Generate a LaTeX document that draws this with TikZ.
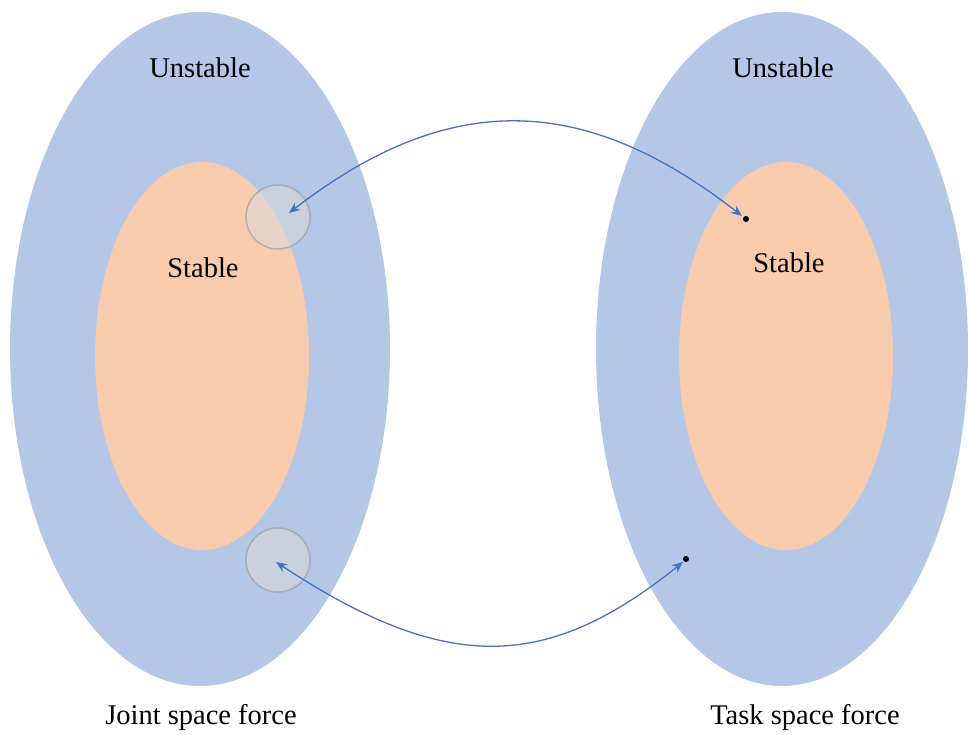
\documentclass[tikz,border=0pt]{standalone}
\usepackage{fontspec}
\setmainfont{Liberation Serif}
\usetikzlibrary{arrows.meta}
\definecolor{blueE}{HTML}{B4C7E7}
\definecolor{orangeE}{HTML}{F8CBAD}
\definecolor{arrowC}{HTML}{4472C4}
\definecolor{probeC}{HTML}{D9D9D9}
\tikzset{
  outer/.style={fill=blueE, draw=none},
  inner/.style={fill=orangeE, draw=none},
  probe/.style={circle, minimum size=64pt, inner sep=0pt, fill=probeC, fill opacity=0.6, draw=gray!80, draw opacity=0.6, line width=1.5pt},
  dotn/.style={circle, fill=black, inner sep=0pt, minimum size=6pt},
  lbl/.style={font=\fontsize{28.5}{34}\selectfont, inner sep=0pt},
  conn/.style={arrowC, line width=1.3pt, {Stealth[length=11pt,width=9pt]}-{Stealth[length=11pt,width=9pt]}}
}
\begin{document}
\begin{tikzpicture}[x=1pt,y=-1pt]
\useasboundingbox (0,0) rectangle (968,734);
\fill[white] (0,0) rectangle (968,734);
% ellipses
\fill[outer] (200,349) ellipse [x radius=190, y radius=337];
\fill[inner] (202,356) ellipse [x radius=107, y radius=194];
\fill[outer] (782,349) ellipse [x radius=186, y radius=337];
\fill[inner] (786,356) ellipse [x radius=107, y radius=194];
% labels
\node[lbl] (u1) at (200,68) {Unstable};
\node[lbl] (u2) at (783,68) {Unstable};
\node[lbl] (s1) at (203,268) {Stable};
\node[lbl] (s2) at (789,263) {Stable};
\node[lbl] (j) at (201,717) {Joint space force};
\node[lbl] (t) at (805,717) {Task space force};
% probes
\node[probe] (c1) at (278,217) {};
\node[probe] (c2) at (278,560) {};
\node[dotn] (d1) at (746,219) {};
\node[dotn] (d2) at (686,559) {};
\coordinate (c1t) at (289,213);
\coordinate (d1t) at (742,216);
\coordinate (c2t) at (276,562);
\coordinate (d2t) at (683,562);
% connectors
\draw[conn] (c1t) .. controls (447,91) and (582,91) .. (d1t);
\draw[conn] (c2t) .. controls (445,673) and (545,673) .. (d2t);
\end{tikzpicture}
\end{document}
